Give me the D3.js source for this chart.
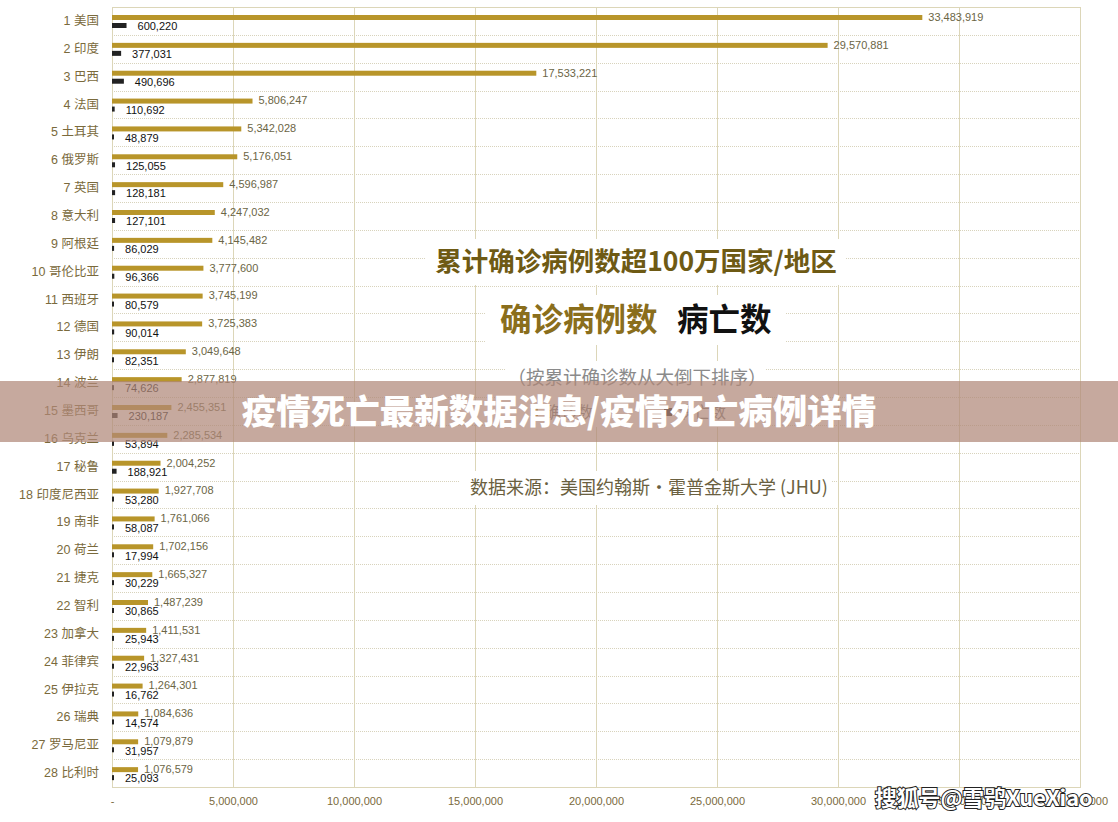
<!DOCTYPE html>
<html><head><meta charset="utf-8">
<script src="https://cdn.jsdelivr.net/npm/d3@7"></script>
<style>
html,body{margin:0;padding:0;background:#fff;}
svg{display:block;}
</style></head>
<body>
<div id="chart"></div>
<script>
const categories = ["1 美国","2 印度","3 巴西","4 法国","5 土耳其","6 俄罗斯","7 英国","8 意大利","9 阿根廷","10 哥伦比亚","11 西班牙","12 德国","13 伊朗","14 波兰","15 墨西哥","16 乌克兰","17 秘鲁","18 印度尼西亚","19 南非","20 荷兰","21 捷克","22 智利","23 加拿大","24 菲律宾","25 伊拉克","26 瑞典","27 罗马尼亚","28 比利时"];
const confirmed = [33483919,29570881,17533221,5806247,5342028,5176051,4596987,4247032,4145482,3777600,3745199,3725383,3049648,2877819,2455351,2285534,2004252,1927708,1761066,1702156,1665327,1487239,1411531,1327431,1264301,1084636,1079879,1076579];
const deaths = [600220,377031,490696,110692,48879,125055,128181,127101,86029,96366,80579,90014,82351,74626,230187,53894,188921,53280,58087,17994,30229,30865,25943,22963,16762,14574,31957,25093];
const xTicks = [0,5000000,10000000,15000000,20000000,25000000,30000000,35000000,40000000];
const titleText = "累计确诊病例数超100万国家/地区";
const seriesNames = ["确诊病例数","病亡数"];
const legendNames = ["确诊数","病亡数"];
const subtitleText = "（按累计确诊数从大倒下排序）";
const sourceText = "数据来源：美国约翰斯·霍普金斯大学 (JHU)";
const bannerText = "疫情死亡最新数据消息/疫情死亡病例详情";
const watermarkText = "搜狐号@雪鸮XueXiao";

const W = 1118, H = 822;
const GOLD = "#b8952a", DARK = "#222222", OLIVE = "#7a6a3c", GRID = "#dcd6b8";
const FONT = "'Liberation Sans','Noto Sans CJK SC',sans-serif";
const CJK = "'Noto Sans CJK SC',sans-serif";

const svg = d3.select("#chart").append("svg").attr("width", W).attr("height", H)
  .style("font-family", FONT);

const x = d3.scaleLinear().domain([0, 40000000]).range([112, 1080]);
const y = d3.scaleBand().domain(categories).range([7, 787]).padding(0);

// horizontal dotted gridlines
svg.append("g").selectAll("line").data(categories.slice(1)).join("line")
  .attr("x1", x(0)).attr("x2", x(40000000))
  .attr("y1", d => Math.round(y(d)) + 0.5).attr("y2", d => Math.round(y(d)) + 0.5)
  .attr("stroke", "#d8d3bc").attr("stroke-width", 1).attr("stroke-dasharray", "1,1");

// vertical gridlines
svg.append("g").selectAll("line").data(xTicks).join("line")
  .attr("x1", d => Math.round(x(d)) + 0.5).attr("x2", d => Math.round(x(d)) + 0.5)
  .attr("y1", 7).attr("y2", 787)
  .attr("stroke", GRID).attr("stroke-width", 1);

svg.append("rect").attr("x", x(0) + 0.5).attr("y", 7.5)
  .attr("width", x(40000000) - x(0)).attr("height", 780)
  .attr("fill", "none").attr("stroke", GRID);

// x axis tick labels
const xAxis = d3.axisBottom(x).tickValues(xTicks)
  .tickFormat(d => d === 0 ? "-" : d3.format(",")(d)).tickSize(0).tickPadding(0);
const gx = svg.append("g").attr("transform", "translate(0,797)").call(xAxis);
gx.select(".domain").remove();
gx.selectAll("text").attr("fill", OLIVE).style("font-size", "11px").style("font-family", FONT);

// category axis labels
const yAxis = d3.axisLeft(y).tickSize(0).tickPadding(0);
const gy = svg.append("g").attr("transform", "translate(99,0)").call(yAxis);
gy.select(".domain").remove();
gy.selectAll("text").attr("fill", OLIVE).style("font-size", "12.5px").style("font-family", FONT);

// title white boxes + text
const tg = svg.append("g");
function box(cx, cy, w, h) {
  tg.append("rect").attr("x", cx - w / 2).attr("y", cy - h / 2).attr("width", w).attr("height", h).attr("fill", "#fff");
}
box(636, 262, 420, 46);
box(636, 320, 300, 50);
box(636, 378, 260, 34);
box(636, 412, 260, 30);
box(646, 488, 372, 34);

tg.append("text").attr("x", 636).attr("y", 262).attr("dy", "0.35em").attr("text-anchor", "middle")
  .style("font-family", CJK).style("font-weight", "bold").style("font-size", "26.5px")
  .attr("fill", "#6e5a14").text(titleText);
tg.append("text").attr("x", 500).attr("y", 320).attr("dy", "0.35em")
  .style("font-family", CJK).style("font-weight", "bold").style("font-size", "31.5px")
  .attr("fill", "#8a6e1c").text(seriesNames[0]);
tg.append("text").attr("x", 677).attr("y", 320).attr("dy", "0.35em")
  .style("font-family", CJK).style("font-weight", "bold").style("font-size", "31.5px")
  .attr("fill", "#111").text(seriesNames[1]);
tg.append("text").attr("x", 637).attr("y", 378).attr("dy", "0.35em").attr("text-anchor", "middle")
  .style("font-family", CJK).style("font-size", "18.5px")
  .attr("fill", "#8a8a8a").text(subtitleText);
// legend (mostly under banner)
tg.append("rect").attr("x", 530).attr("y", 408).attr("width", 8).attr("height", 8).attr("fill", GOLD);
tg.append("text").attr("x", 545).attr("y", 412).attr("dy", "0.35em")
  .style("font-family", CJK).style("font-size", "16px").attr("fill", "#777").text(legendNames[0]);
tg.append("rect").attr("x", 664).attr("y", 408).attr("width", 8).attr("height", 8).attr("fill", DARK);
tg.append("text").attr("x", 678).attr("y", 412).attr("dy", "0.35em")
  .style("font-family", CJK).style("font-size", "16px").attr("fill", "#777").text(legendNames[1]);
tg.append("text").attr("x", 470).attr("y", 488).attr("dy", "0.35em")
  .style("font-family", CJK).style("font-size", "18px")
  .attr("fill", "#6a6040").text(sourceText);

// bars
const rows = categories.map((c, i) => ({c, conf: confirmed[i], death: deaths[i]}));
const bars = svg.append("g");
bars.selectAll("rect.conf").data(rows).join("rect").attr("class", "conf")
  .attr("x", x(0)).attr("y", d => y(d.c) + 8).attr("height", 5)
  .attr("width", d => x(d.conf) - x(0)).attr("fill", GOLD);
bars.selectAll("rect.death").data(rows).join("rect").attr("class", "death")
  .attr("x", x(0)).attr("y", d => y(d.c) + 16).attr("height", 5)
  .attr("width", d => Math.max(2, x(d.death) - x(0))).attr("fill", DARK);

// data labels
bars.selectAll("text.cl").data(rows).join("text").attr("class", "cl")
  .attr("x", d => x(d.conf) + 6).attr("y", d => y(d.c) + 10).attr("dy", "0.35em")
  .style("font-size", "11px").attr("fill", "#6b6545").text(d => d3.format(",")(d.conf));
bars.selectAll("text.dl").data(rows).join("text").attr("class", "dl")
  .attr("x", d => Math.max(x(d.death), x(0) + 2) + 11).attr("y", d => y(d.c) + 19.5).attr("dy", "0.35em")
  .style("font-size", "11px").attr("fill", "#111").text(d => d3.format(",")(d.death));

// banner overlay
svg.append("rect").attr("x", 0).attr("y", 381).attr("width", W).attr("height", 61)
  .attr("fill", "#b08878").attr("opacity", 0.72);
svg.append("text").attr("x", 559).attr("y", 412).attr("dy", "0.35em").attr("text-anchor", "middle")
  .style("font-family", CJK).style("font-weight", "900").style("font-size", "34.5px")
  .attr("fill", "#fff").text(bannerText);

// watermark
svg.append("text").attr("x", 875).attr("y", 798).attr("dy", "0.35em")
  .style("font-family", CJK).style("font-weight", "bold").style("font-size", "21.8px")
  .attr("fill", "#fff").attr("stroke", "#222").attr("stroke-width", 2)
  .attr("paint-order", "stroke").text(watermarkText);
</script>
</body></html>
